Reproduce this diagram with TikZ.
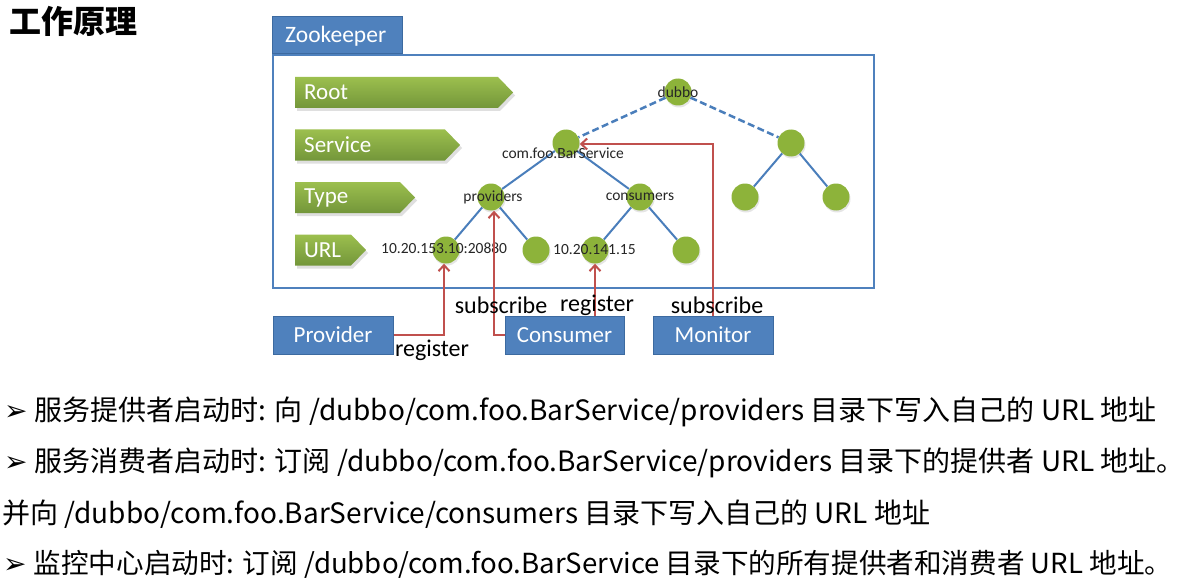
\documentclass[tikz,border=0pt]{standalone}
\usepackage{fontspec}
\setmainfont{Carlito}
\newfontfamily\cjk{Noto Sans CJK SC}
\newfontfamily\symf{DejaVu Sans}
\usetikzlibrary{shadows,arrows.meta}
\definecolor{zkblue}{HTML}{4F81BD}
\definecolor{zkborder}{HTML}{3C6AA0}
\definecolor{tline}{HTML}{4A7EBB}
\definecolor{gnode}{HTML}{8DB33A}
\definecolor{gtop}{HTML}{9CBF4E}
\definecolor{gbot}{HTML}{73963A}
\definecolor{rline}{HTML}{C0504D}
\newcommand\grarrow[5]{%
  \path[grshape] (#2,#4-15.5) -- (#3-15,#4-15.5) -- (#3,#4) -- (#3-15,#4+15.5) -- (#2,#4+15.5) -- cycle;
  \node[grtext] (#1) at (#2+9,#4) {#5};}
\newcommand\bulsym{{\symf\fontsize{28}{28}\selectfont ➢}\hspace{7pt}}
\begin{document}
\begin{tikzpicture}[x=1pt,y=-1pt,
  grshape/.style={top color=gtop,bottom color=gbot,draw=none,
    drop shadow={opacity=0.25,shadow xshift=2pt,shadow yshift=-3pt}},
  grtext/.style={anchor=west,text=white,font=\fontsize{23}{26}\selectfont,inner sep=0pt},
  bluebox/.style={rectangle,fill=zkblue,draw=zkborder,line width=1pt,text=white,
    font=\fontsize{23}{26}\selectfont,inner sep=0pt},
  tnode/.style={circle,fill=gnode,draw=none,minimum size=27pt,inner sep=0pt,
    drop shadow={opacity=0.2,shadow xshift=1pt,shadow yshift=-2pt}},
  tlab/.style={font=\fontsize{15.5}{17}\selectfont,text=black!85,inner sep=0pt},
  tedge/.style={draw=tline,line width=2pt},
  dedge/.style={draw=tline,line width=2.5pt,dash pattern=on 7pt off 3.5pt},
  redl/.style={draw=rline,line width=2pt,-{Straight Barb[length=6pt,width=11pt,line width=2pt]}},
  rlab/.style={font=\fontsize{24}{26}\selectfont,inner sep=0pt},
  bodytxt/.style={anchor=west,inner sep=0pt,font=\cjk\fontsize{28}{32}\selectfont}
]
\useasboundingbox (0,0) rectangle (1185,583);
% title
\node[anchor=west,inner sep=0pt,font=\cjk\bfseries\fontsize{32}{36}\selectfont] (title) at (9,21) {工作原理};
% zookeeper box
\node[rectangle,draw=zkblue,line width=1.6pt,fill=white,minimum width=601pt,minimum height=233pt,anchor=north west,inner sep=0pt] (zk) at (272,54) {};
\node[bluebox,minimum width=130pt,minimum height=37pt,anchor=south west] (zktab) at (272,54) {};
\node[anchor=west,text=white,font=\fontsize{23.5}{26}\selectfont,inner sep=0pt] (zktxt) at (285,36) {Zookeeper};
% level arrows
\grarrow{root}{295}{513}{92.5}{Root}
\grarrow{service}{295}{460}{145}{Service}
\grarrow{type}{295}{415}{197.5}{Type}
\grarrow{url}{295}{366}{250}{URL}
% tree nodes
\node[tnode] (dubbo) at (678,92) {};
\node[tnode] (bar) at (566,143) {};
\node[tnode] (svc2) at (791,143) {};
\node[tnode] (prov) at (491,197) {};
\node[tnode] (cons) at (640,197) {};
\node[tnode] (c21) at (745,197) {};
\node[tnode] (c22) at (836,197) {};
\node[tnode] (u1) at (446,250) {};
\node[tnode] (u2) at (536,250) {};
\node[tnode] (u3) at (595,250) {};
\node[tnode] (u4) at (686,250) {};
% edges
\draw[dedge] (dubbo) -- (bar);
\draw[dedge] (dubbo) -- (svc2);
\draw[tedge] (bar) -- (prov);
\draw[tedge] (bar) -- (cons);
\draw[tedge] (svc2) -- (c21);
\draw[tedge] (svc2) -- (c22);
\draw[tedge] (prov) -- (u1);
\draw[tedge] (prov) -- (u2);
\draw[tedge] (cons) -- (u3);
\draw[tedge] (cons) -- (u4);
% tree labels
\node[tlab] (ldubbo) at (678,92) {dubbo};
\node[tlab] (lbar) at (563,153) {com.foo.BarService};
\node[tlab] (lprov) at (493,197) {providers};
\node[tlab] (lcons) at (640,197) {consumers};
\node[tlab,anchor=west] (lu1) at (381,248) {10.20.153.10:20880};
\node[tlab,anchor=west] (lu3) at (553,250) {10.20.141.15};
% bottom boxes
\node[bluebox,minimum width=120pt,minimum height=38pt] (provider) at (333,335) {Provider};
\node[bluebox,minimum width=119pt,minimum height=38pt] (consumer) at (564.5,335) {Consumer};
\node[bluebox,minimum width=120pt,minimum height=38pt] (monitor) at (713,335) {Monitor};
% red connectors
\draw[redl] (provider.east) -- (444,335) -- (u1.south -| 444,0);
\draw[redl] (consumer.west) -- (494,335) -- ([xshift=3pt]prov.south);
\draw[redl] (consumer.north -| u3) -- (u3.south);
\draw[redl] (monitor.north) -- (713,144) -- ([yshift=-1pt]bar.east);
% red labels
\node[rlab] (s1) at (501,305) {subscribe};
\node[rlab] (r1) at (597,305) {register};
\node[rlab] (s2) at (717,305) {subscribe};
\node[rlab] (r2) at (432,350) {register};
% bottom text
\node[bodytxt] (t1) at (4,412) {\bulsym 服务提供者启动时: 向 /dubbo/com.foo.BarService/providers 目录下写入自己的 URL 地址};
\node[bodytxt] (t2) at (4,463) {\bulsym 服务消费者启动时: 订阅 /dubbo/com.foo.BarService/providers 目录下的提供者 URL 地址。};
\node[bodytxt] (t3) at (2,514) {并向 /dubbo/com.foo.BarService/consumers 目录下写入自己的 URL 地址};
\node[bodytxt,font=\cjk\fontsize{27.6}{32}\selectfont] (t4) at (3,564) {\bulsym 监控中心启动时: 订阅 /dubbo/com.foo.BarService 目录下的所有提供者和消费者 URL 地址。};
\end{tikzpicture}
\end{document}
